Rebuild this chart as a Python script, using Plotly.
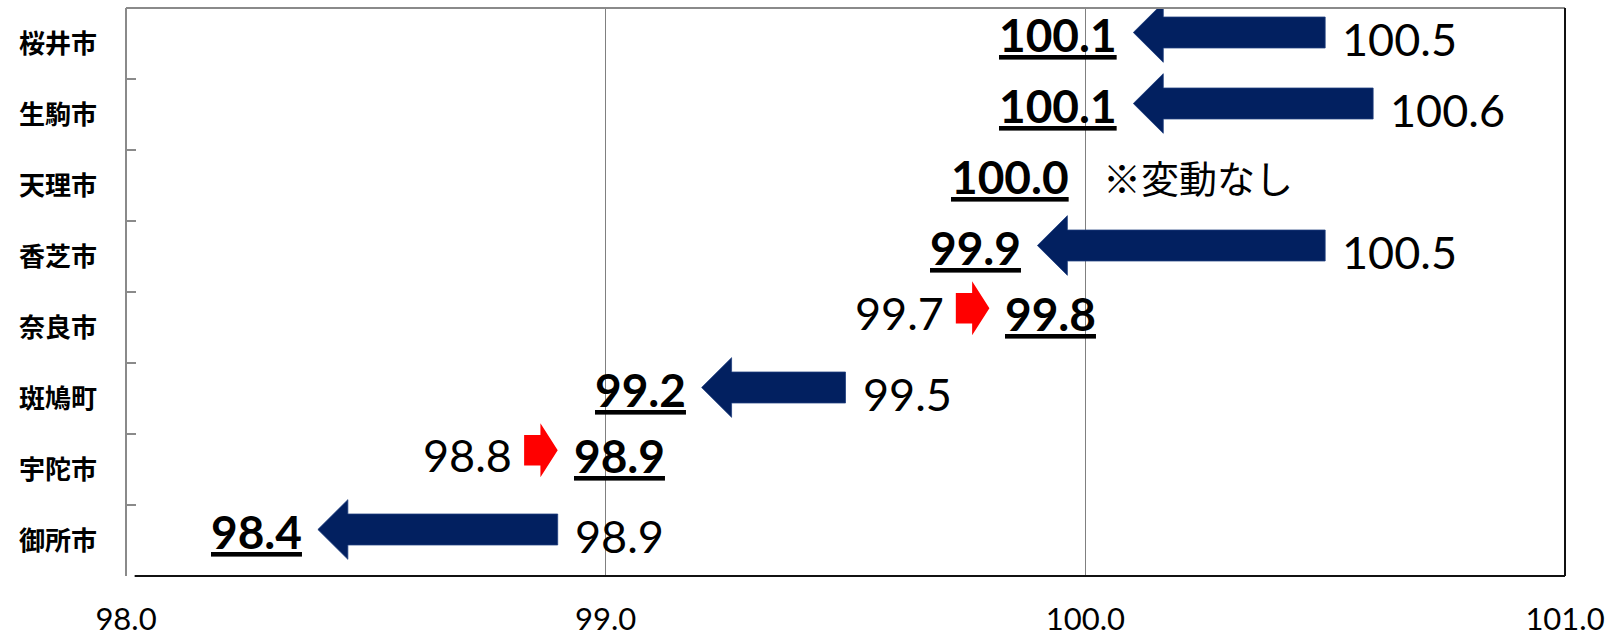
import plotly.graph_objects as go

# ---- data ----
categories = ["桜井市", "生駒市", "天理市", "香芝市", "奈良市", "斑鳩町", "宇陀市", "御所市"]
prev_values = [100.5, 100.6, 100.0, 100.5, 99.7, 99.5, 98.8, 98.9]
curr_values = [100.1, 100.1, 100.0, 99.9, 99.8, 99.2, 98.9, 98.4]
x_ticks = [98.0, 99.0, 100.0, 101.0]
x_tick_labels = ["98.0", "99.0", "100.0", "101.0"]
no_change_note = "※変動なし"

# ---- style ----
NAVY = "#022060"
RED = "#ff0000"
NUM_FONT = "Lato, 'Noto Sans', sans-serif"
CJK_FONT = "'Noto Sans CJK JP', sans-serif"

fig = go.Figure()
annotations = []

for i, (cat, old, new) in enumerate(zip(categories, prev_values, curr_values)):
    bold_font = dict(family=NUM_FONT, size=46, color="black", weight="bold", lineposition="under")
    reg_font = dict(family=NUM_FONT, size=45, color="black")
    if new < old:
        yc = i - 0.155
        hl, sh, hh = 0.0625, 0.218, 0.42
        xs = [new, new + hl, new + hl, old, old, new + hl, new + hl, new]
        ys = [yc, yc - hh, yc - sh, yc - sh, yc + sh, yc + sh, yc + hh, yc]
        fig.add_trace(go.Scatter(x=xs, y=ys, fill="toself", fillcolor=NAVY, mode="lines",
                                 line=dict(width=0.8, color="#1f3f7f"), hoverinfo="skip", showlegend=False))
        annotations.append(dict(x=new, y=i - 0.13, xref="x", yref="y", text=f"{new:.1f}",
                                 xanchor="right", yanchor="middle", xshift=-14, showarrow=False, font=bold_font))
        annotations.append(dict(x=old, y=i - 0.06, xref="x", yref="y", text=f"{old:.1f}",
                                 xanchor="left", yanchor="middle", xshift=15, showarrow=False, font=reg_font))
    elif new > old:
        yc = i - 0.27
        width, hl, sh, hh = 0.07, 0.036, 0.215, 0.38
        tail = new - width
        xs = [new, new - hl, new - hl, tail, tail, new - hl, new - hl, new]
        ys = [yc, yc - hh, yc - sh, yc - sh, yc + sh, yc + sh, yc + hh, yc]
        fig.add_trace(go.Scatter(x=xs, y=ys, fill="toself", fillcolor=RED, mode="lines",
                                 line=dict(width=0, color=RED), hoverinfo="skip", showlegend=False))
        annotations.append(dict(x=tail, y=i - 0.2, xref="x", yref="y", text=f"{old:.1f}",
                                 xanchor="right", yanchor="middle", xshift=-10, showarrow=False, font=reg_font))
        annotations.append(dict(x=new, y=i - 0.2, xref="x", yref="y", text=f"{new:.1f}",
                                 xanchor="left", yanchor="middle", xshift=14, showarrow=False, font=bold_font))
    else:
        annotations.append(dict(x=new, y=i - 0.13, xref="x", yref="y", text=f"{new:.1f}",
                                 xanchor="right", yanchor="middle", xshift=-14, showarrow=False, font=bold_font))
        annotations.append(dict(x=new, y=i - 0.13, xref="x", yref="y", text=no_change_note,
                                 xanchor="left", yanchor="middle", xshift=16, showarrow=False,
                                 font=dict(family=CJK_FONT, size=38, color="black")))

# frame lines (left/top gray, right/bottom dark)
shapes = [
    dict(type="line", xref="paper", yref="paper", x0=0, x1=0, y0=0, y1=1, line=dict(color="#8a8a8a", width=2)),
    dict(type="line", xref="paper", yref="paper", x0=0, x1=1, y0=1, y1=1, line=dict(color="#8a8a8a", width=2)),
    dict(type="line", xref="paper", yref="paper", x0=1, x1=1, y0=0, y1=1, line=dict(color="#111111", width=2)),
    dict(type="line", xref="paper", yref="paper", x0=0.006, x1=1, y0=0, y1=0, line=dict(color="#111111", width=2)),
]

fig.update_layout(
    width=1622, height=641,
    margin=dict(l=126, r=57, t=8, b=65, autoexpand=False),
    paper_bgcolor="white", plot_bgcolor="white",
    annotations=annotations, shapes=shapes,
    showlegend=False,
    xaxis=dict(range=[98, 101], tickvals=x_ticks, ticktext=x_tick_labels, automargin=False,
               showgrid=True, gridcolor="#808080", gridwidth=1, zeroline=False,
               ticks="", showline=False, ticklabelstandoff=22,
               tickfont=dict(family=NUM_FONT, size=31, color="black")),
    yaxis=dict(range=[len(categories) - 0.5, -0.5], tickvals=list(range(len(categories))),
               ticktext=categories, showgrid=False, zeroline=False, ticks="", showline=False,
               ticklabelstandoff=28, automargin=False,
               tickfont=dict(family=CJK_FONT, size=26, color="black", weight="bold"),
               minor=dict(tickvals=[k + 0.5 for k in range(len(categories) - 1)], ticks="inside",
                          ticklen=10, tickcolor="#8a8a8a", tickwidth=1.5, showgrid=False)),
)

fig.write_html("out.html")
